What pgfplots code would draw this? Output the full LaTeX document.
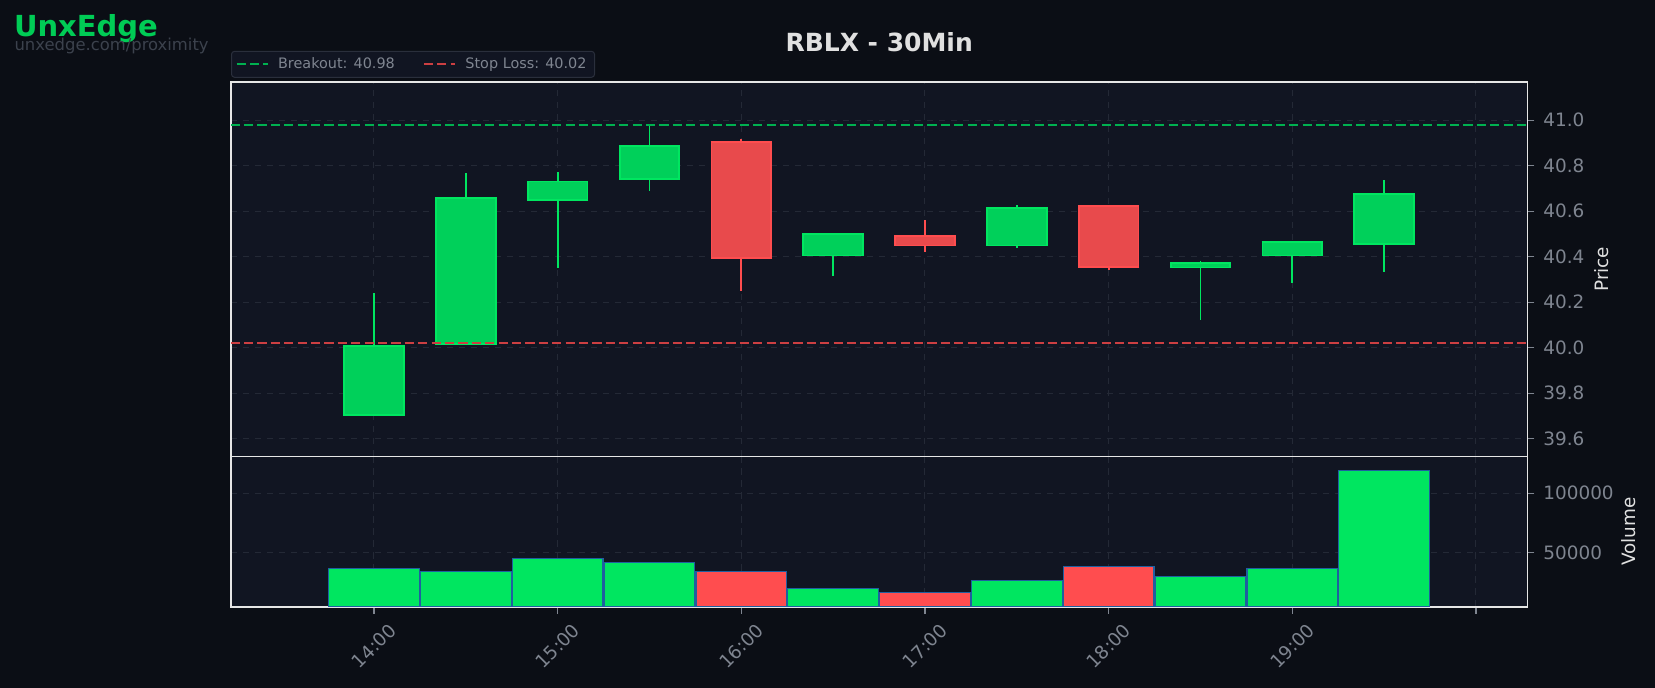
\documentclass[border=0pt]{standalone}
\usepackage{pgfplots}
\pgfplotsset{compat=1.18}
\usepackage{pgfplotstable}
\usepackage{fontspec}
\setmainfont{DejaVu Sans}

\definecolor{bgout}{HTML}{0B0E15}
\definecolor{bgax}{HTML}{111522}
\definecolor{framec}{HTML}{E6E6E6}
\definecolor{gridc}{HTML}{242936}
\definecolor{tickc}{HTML}{7F8590}
\definecolor{labc}{HTML}{E0E0E0}
\definecolor{upfill}{HTML}{00D05A}
\definecolor{upedge}{HTML}{00E660}
\definecolor{dnfill}{HTML}{E84A4C}
\definecolor{dnedge}{HTML}{FF4D4F}
\definecolor{volup}{HTML}{00E660}
\definecolor{voldn}{HTML}{FF4D4F}
\definecolor{voledge}{HTML}{1F5FA0}
\definecolor{brk}{HTML}{00B050}
\definecolor{stp}{HTML}{CC3F42}
\definecolor{brand}{HTML}{00CC55}
\definecolor{subc}{HTML}{3C424D}
\definecolor{legedge}{HTML}{2A2F3C}

% x = half-hour slot from 14:00
\pgfplotstableread{
x  o      h      l      c      v
0  39.705 40.240 39.705 40.006 36700
1  40.015 40.768 40.015 40.657 34200
2  40.651 40.772 40.350 40.731 45200
3  40.743 40.978 40.689 40.885 41800
5  40.405 40.500 40.315 40.500 19500
7  40.449 40.627 40.438 40.613 26600
9  40.352 40.381 40.123 40.371 29900
10 40.405 40.463 40.284 40.463 36700
11 40.457 40.737 40.333 40.674 118900
}\upT
\pgfplotstableread{
x  o      h      l      c      v
4  40.903 40.918 40.249 40.396 34200
6  40.490 40.561 40.421 40.449 16400
8  40.622 40.627 40.343 40.356 38400
}\dnT

\pgfplotsset{
  base/.style={
    scale only axis, width=648.2pt,
    xmin=-1.557, xmax=12.56,
    axis background/.style={fill=bgax},
    axis line style={framec, line width=0.8pt},
    grid=major,
    grid style={gridc, line width=0.5pt, dash pattern=on 3.2pt off 2.8pt},
    xtick={0,2,4,6,8,10,12},
    tick align=outside, xtick pos=bottom, ytick pos=right, yticklabel pos=right,
    major tick length=3.5pt,
    tick style={tickc, line width=0.6pt},
    ticklabel style={font=\fontsize{9.2}{11}\selectfont, text=tickc},
    yticklabel style={anchor=west, xshift=1pt},
    /pgf/number format/assume math mode=true,
    scaled y ticks=false,
    every axis y label/.style={at={(rel axis cs:1,0.5)}, rotate=90, anchor=center,
      font=\fontsize{9.2}{11}\selectfont, text=labc},
  },
  hidden/.style={forget plot, no markers, draw opacity=0},
  wick/.style={hidden,
    error bars/.cd, y dir=both, y explicit, error mark=none,
    error bar style={#1, draw opacity=1, line width=0.85pt}},
  bodyout/.style={hidden,
    error bars/.cd, y dir=both, y explicit, error mark=none,
    error bar style={#1, draw opacity=1, line width=30.7pt}},
  bodyin/.style 2 args={hidden,
    error bars/.cd, y dir=both, y explicit, error mark=-,
    error bar style={#1, draw opacity=1, line width=28.9pt},
    error mark options={#2, draw opacity=1, rotate=90, line width=0.9pt, mark size=15.35pt}},
}

\begin{document}
\begin{tikzpicture}
\path[fill=bgout, use as bounding box] (0,0) rectangle (827.5pt,344pt);

\node[anchor=base west, text=brand, inner sep=0pt] at (6.8pt,325.5pt)
  {\fontsize{14.5}{17}\selectfont\bfseries UnxEdge};
\node[anchor=base west, text=subc, inner sep=0pt] at (7.1pt,318.9pt)
  {\fontsize{8.2}{10}\selectfont unxedge.com/proximity};
\node[anchor=base, text=labc, inner sep=0pt] at (439.6pt,318.2pt)
  {\fontsize{12.5}{15}\selectfont\bfseries RBLX - 30Min};

% price panel
\begin{axis}[base,
  at={(115.5pt,303pt)}, anchor=north west, height=187.2pt,
  ymin=39.522, ymax=41.168,
  ytick={39.6,39.8,40.0,40.2,40.4,40.6,40.8,41.0},
  yticklabel style={/pgf/number format/fixed, /pgf/number format/fixed zerofill,
    /pgf/number format/precision=1},
  xticklabels={}, xtick style={draw=none},
  ylabel={Price},
  every axis y label/.append style={yshift=-37.2pt},
  legend columns=2,
  legend image code/.code={\draw[#1] (0pt,0pt) -- (15.7pt,0pt); \path (18.3pt,0pt);},
  legend style={at={(0,1)}, anchor=south west, yshift=2.1pt,
    fill=bgax, draw=legedge, line width=0.5pt, rounded corners=1.5pt,
    font=\fontsize{7.2}{8.5}\selectfont, text=tickc,
    inner xsep=2pt, inner ysep=1pt,
    /tikz/every even column/.append style={column sep=12pt}},
]
\addplot[wick=upedge] table[x=x, y expr={(\thisrow{h}+\thisrow{l})/2},
  y error expr={(\thisrow{h}-\thisrow{l})/2}] {\upT};
\addplot[wick=dnedge] table[x=x, y expr={(\thisrow{h}+\thisrow{l})/2},
  y error expr={(\thisrow{h}-\thisrow{l})/2}] {\dnT};
\addplot[bodyout=upedge] table[x=x, y expr={(\thisrow{o}+\thisrow{c})/2},
  y error expr={abs(\thisrow{c}-\thisrow{o})/2}] {\upT};
\addplot[bodyin={upfill}{upedge}] table[x=x, y expr={(\thisrow{o}+\thisrow{c})/2},
  y error expr={abs(\thisrow{c}-\thisrow{o})/2}] {\upT};
\addplot[bodyout=dnedge] table[x=x, y expr={(\thisrow{o}+\thisrow{c})/2},
  y error expr={abs(\thisrow{c}-\thisrow{o})/2}] {\dnT};
\addplot[bodyin={dnfill}{dnedge}] table[x=x, y expr={(\thisrow{o}+\thisrow{c})/2},
  y error expr={abs(\thisrow{c}-\thisrow{o})/2}] {\dnT};

\addplot[brk, line width=1pt, dash pattern=on 4.6pt off 2.1pt] coordinates {(-2,40.98) (13,40.98)};
\addlegendentry{Breakout: 40.98}
\addplot[stp, line width=1pt, dash pattern=on 4.6pt off 2.1pt] coordinates {(-2,40.02) (13,40.02)};
\addlegendentry{Stop Loss: 40.02}
\end{axis}

% volume panel
\begin{axis}[base,
  at={(115.5pt,115.8pt)}, anchor=north west, height=75.2pt,
  ymin=4300, ymax=131000,
  ytick={50000,100000}, yticklabels={50000,100000},
  xticklabels={14:00,15:00,16:00,17:00,18:00,19:00,{}},
  xticklabel style={rotate=45, anchor=center, xshift=-11.4pt, yshift=-11.4pt},
  ylabel={Volume},
  every axis y label/.append style={yshift=-50.5pt},
]
\addplot[ybar, bar width=0.988, bar shift=0pt, fill=volup, draw=voledge, line width=0.6pt]
  table[x=x, y=v] {\upT};
\addplot[ybar, bar width=0.988, bar shift=0pt, fill=voldn, draw=voledge, line width=0.6pt]
  table[x=x, y=v] {\dnT};
\end{axis}
\end{tikzpicture}
\end{document}
